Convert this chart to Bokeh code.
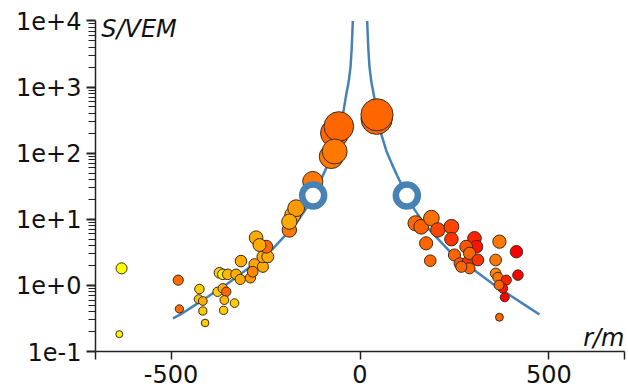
from bokeh.plotting import figure
from bokeh.models import (ColumnDataSource, FixedTicker, CustomJSTickFormatter,
                          Label, LinearColorMapper)
from bokeh.embed import file_html
from bokeh.resources import INLINE

# ---------------- data ----------------
# station distance to shower axis (m, signed by side) and signal (VEM)
r_m = [-631, -637, -481, -478, -425, -427, -416, -416, -410, -372, -363, -377,
       -363, -354, -359, -361, -332, -350, -328, -315, -317, -290, -279, -284,
       -257, -257, -244, -275, -248, -266, -187, -178, -169, -187, -125, -67,
       -56, -76, -67,
       44, 45, 147, 162, 189, 206, 242, 242, 175, 186, 250, 264, 286, 303, 308,
       281, 290, 312, 290, 268, 369, 414, 359, 359, 365, 387, 418, 378, 368,
       383, 369]
s_vem = [1.81, 0.183, 1.20, 0.44, 0.88, 0.62, 0.58, 0.41, 0.27, 1.55, 1.47, 0.80,
         0.90, 0.80, 0.60, 0.42, 0.54, 1.47, 1.47, 2.33, 1.23, 1.30, 2.08, 1.61,
         1.91, 2.71, 2.71, 5.26, 3.85, 4.08, 6.88, 11.6, 14.7, 9.2, 37.2, 201,
         253, 88.8, 106,
         331, 380, 8.7, 7.7, 10.4, 6.9, 7.7, 5.0, 4.33, 2.36, 2.88, 2.15, 2.28,
         5.15, 3.85, 3.85, 3.05, 2.42, 1.81, 1.91, 4.58, 3.23, 2.42, 1.52, 1.32,
         1.20, 1.43, 0.90, 1.01, 0.66, 0.33]
# relative timing (0 = earliest / yellow, 1 = latest / red)
t_rel = [0.0, 0.05, 0.58, 0.58, 0.2, 0.25, 0.33, 0.2, 0.2, 0.2, 0.07, 0.2,
         0.33, 0.6, 0.27, 0.2, 0.2, 0.27, 0.33, 0.33, 0.33, 0.4, 0.35, 0.47,
         0.33, 0.33, 0.33, 0.33, 0.58, 0.33, 0.53, 0.33, 0.4, 0.33, 0.53, 0.6,
         0.6, 0.53, 0.53,
         0.6, 0.6, 0.6, 0.62, 0.56, 0.73, 0.73, 0.8, 0.6, 0.6, 0.6, 0.67, 0.8,
         0.87, 0.93, 0.67, 0.6, 0.8, 0.6, 0.6, 0.53, 1.0, 0.53, 0.47, 0.53,
         0.87, 1.0, 0.93, 0.6, 1.0, 0.6]

# lateral distribution function (|r| in m, S in VEM)
ldf_r = [19, 20, 22, 25, 30, 36, 43, 54, 70, 85, 100, 124, 144, 170, 200,
         240, 300, 350, 400, 440, 475, 495]
ldf_s = [10000, 7080, 3800, 2040, 1200, 794, 457, 214, 107, 67.6, 43.7,
         22.9, 14.1, 8.5, 5.5, 3.16, 1.74, 1.07, 0.69, 0.49, 0.363, 0.316]

# reference points (hollow blue rings)
ref_r = [-124, 124]
ref_s = [22.9, 22.9]

x_ticks = [-700, -500, 0, 500, 700]
y_ticks = [0.1, 1, 10, 100, 1000, 10000]

# ---------------- figure ----------------
# frame extends a little above 1e4 so the axis title is not clipped;
# the y axis itself is bounded to [0.1, 1e4]
p = figure(width=628, height=387, y_axis_type="log",
           x_range=(-700, 700), y_range=(0.1, 15400),
           output_backend="svg", toolbar_location=None,
           min_border_left=95, min_border_right=4,
           min_border_top=8, min_border_bottom=36)
p.outline_line_color = None
p.xgrid.grid_line_color = None
p.ygrid.grid_line_color = None
p.background_fill_color = "white"
p.border_fill_color = "white"

FONT = "DejaVu Sans"

# axes
p.xaxis.ticker = FixedTicker(ticks=x_ticks)
p.xaxis.formatter = CustomJSTickFormatter(
    code="return Math.abs(tick) >= 700 ? '' : tick.toFixed(0);")
minor = [k * y for y in y_ticks[:-1] for k in range(2, 10)]
p.yaxis.ticker = FixedTicker(ticks=y_ticks, minor_ticks=minor)
p.yaxis.formatter = CustomJSTickFormatter(
    code="const e = Math.round(Math.log10(tick)); return '1e' + (e >= 0 ? '+' : '') + e;")
p.yaxis.bounds = (0.1, 10000)

for ax in (p.xaxis[0], p.yaxis[0]):
    ax.axis_line_color = "#222222"
    ax.axis_line_width = 1.5
    ax.major_tick_line_color = "#222222"
    ax.minor_tick_line_color = "#222222"
    ax.major_tick_in = 0
    ax.minor_tick_in = 0
    ax.major_label_text_font = FONT
    ax.major_label_text_font_size = "24px"
    ax.major_label_text_color = "#111111"

p.xaxis.major_tick_out = 8
p.xaxis.major_tick_line_width = 1.5
p.xaxis.major_label_standoff = 5
p.yaxis.major_tick_out = 9
p.yaxis.major_tick_line_width = 2
p.yaxis.minor_tick_out = 7
p.yaxis.minor_tick_line_width = 1
p.yaxis.major_label_standoff = 5

# LDF curve, both sides
BLUE = "#4682b4"
p.line(x=[-r for r in ldf_r], y=ldf_s, line_color=BLUE, line_width=2.5)
p.line(x=ldf_r[:-1], y=ldf_s[:-1], line_color=BLUE, line_width=2.5)

# stations
palette = ["#ff%02x00" % int(round(255 * (1 - i / 255))) for i in range(256)]
mapper = LinearColorMapper(palette=palette, low=0, high=1)
sizes = [9.8 * s ** 0.2 for s in s_vem]
src = ColumnDataSource(dict(x=r_m, y=s_vem, t=t_rel, size=sizes))
p.scatter(x="x", y="y", size="size", source=src,
          fill_color={"field": "t", "transform": mapper}, fill_alpha=1,
          line_color="#3b2a1e", line_width=1)

# reference rings
p.scatter(x=ref_r, y=ref_s, size=22, fill_color="white", line_color=BLUE,
          line_width=6.5)

# axis titles
p.add_layout(Label(x=-685, y=7640, text="S/VEM", text_font=FONT,
                   text_font_size="24px", text_font_style="italic",
                   text_color="#111111", text_align="left",
                   text_baseline="alphabetic"))
p.add_layout(Label(x=700, y=0.158, text="r/m", text_font=FONT,
                   text_font_size="24px", text_font_style="italic",
                   text_color="#111111", text_align="right",
                   text_baseline="alphabetic"))

open("out.html", "w").write(file_html(p, INLINE))
